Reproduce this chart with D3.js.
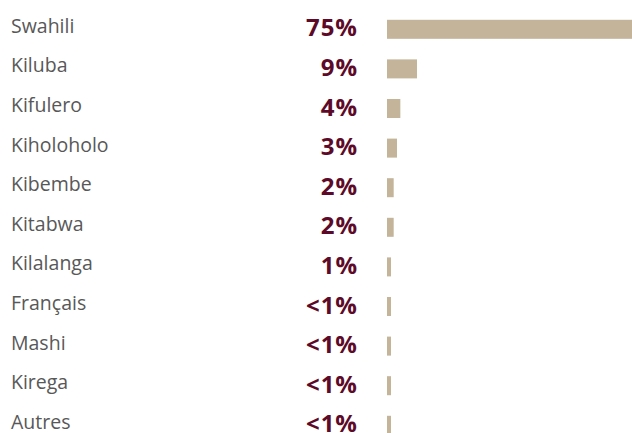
<!DOCTYPE html>
<html>
<head>
<meta charset="utf-8">
<script src="https://cdn.jsdelivr.net/npm/d3@7"></script>
<style>
  html, body { margin: 0; padding: 0; background: #fff; }
  svg { display: block; }
</style>
</head>
<body>
<svg id="chart" width="632" height="433"></svg>
<script>
// Languages spoken, share of respondents (%)
const languages = ["Swahili", "Kiluba", "Kifulero", "Kiholoholo", "Kibembe", "Kitabwa",
                   "Kilalanga", "Français", "Mashi", "Kirega", "Autres"];
const shares = [75, 9, 4, 3, 2, 2, 1, 0.5, 0.5, 0.5, 0.5];
const shareLabels = ["75%", "9%", "4%", "3%", "2%", "2%", "1%", "<1%", "<1%", "<1%", "<1%"];

const svg = d3.select("#chart");

const barLeft = 387;
const x = d3.scaleLinear().domain([0, 75]).range([0, 250]);
const y = d3.scaleBand()
  .domain(languages)
  .range([9.5, 9.5 + 39.6 * languages.length])
  .paddingInner(0.52)
  .paddingOuter(0.26);

// keep tiny shares visible as a thin tick
const minBar = 4;

const rows = svg.selectAll("g.row")
  .data(languages.map((name, i) => ({ name, value: shares[i], label: shareLabels[i] })))
  .join("g")
  .attr("class", "row");

rows.append("rect")
  .attr("x", barLeft)
  .attr("y", d => y(d.name))
  .attr("width", d => Math.max(minBar, x(d.value)))
  .attr("height", y.bandwidth())
  .attr("fill", "#c4b49a");

rows.append("text")
  .attr("x", 11)
  .attr("y", d => y(d.name) + y.bandwidth() / 2 + 3.5)
  .attr("font-family", "'Open Sans', sans-serif")
  .attr("font-size", 19.5)
  .attr("fill", "#585858")
  .text(d => d.name);

rows.append("text")
  .attr("x", 358)
  .attr("y", d => y(d.name) + y.bandwidth() / 2 + 7)
  .attr("text-anchor", "end")
  .attr("letter-spacing", 1)
  .attr("font-family", "'Open Sans', sans-serif")
  .attr("font-weight", "bold")
  .attr("font-size", 24)
  .attr("fill", "#5c0a28")
  .text(d => d.label);
</script>
</body>
</html>
